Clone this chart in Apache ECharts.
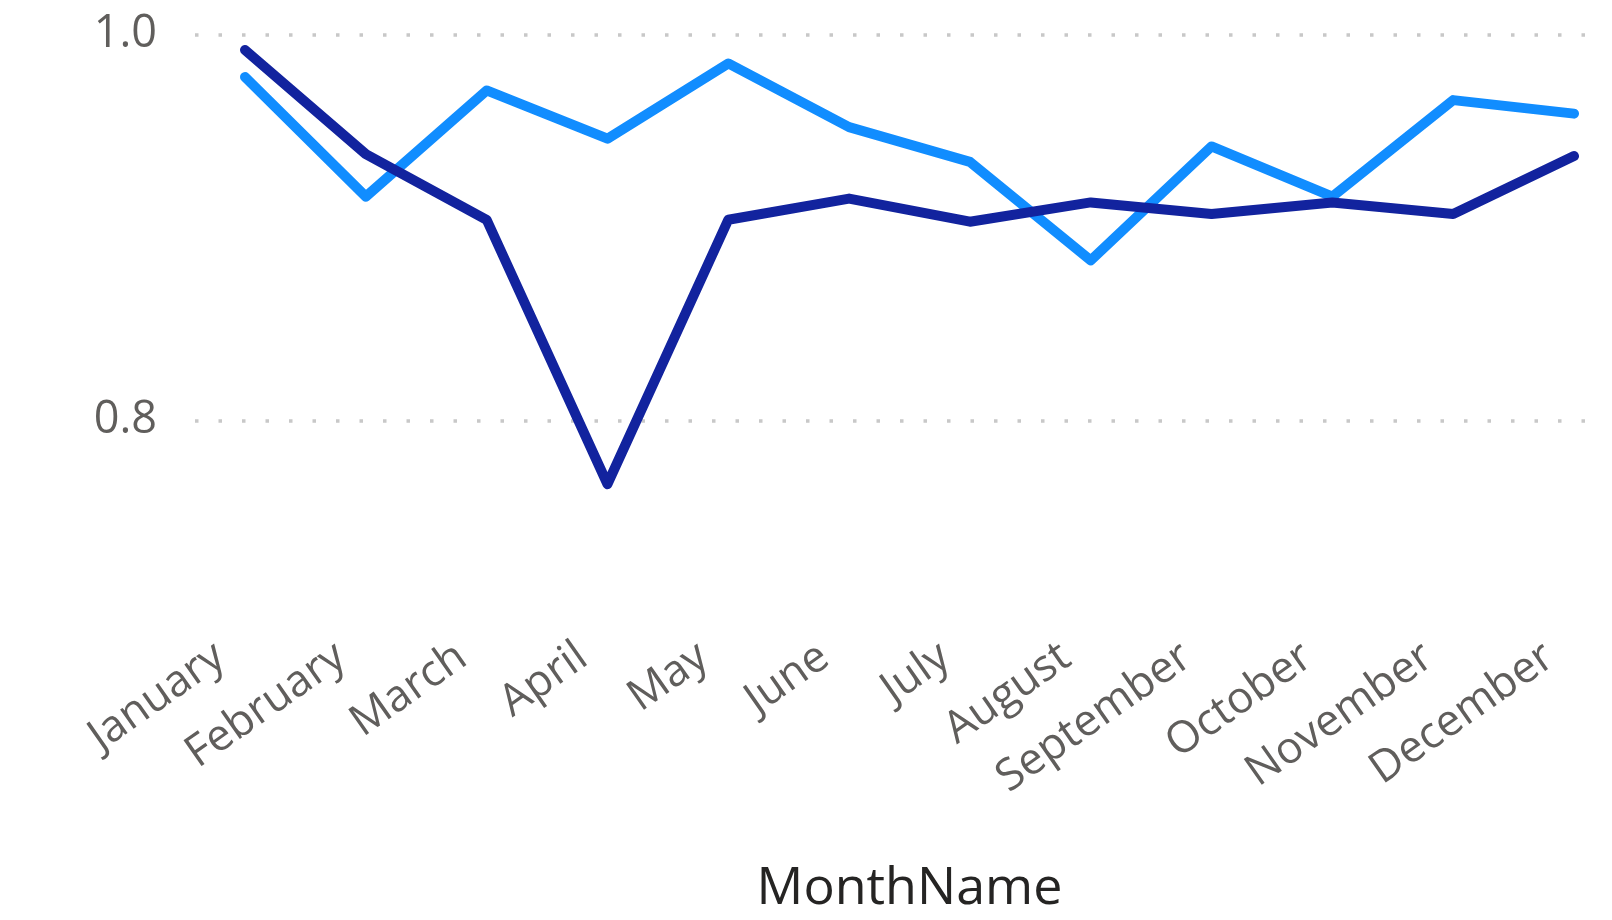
<!DOCTYPE html>
<html>
<head>
<meta charset="utf-8">
<script src="https://cdn.jsdelivr.net/npm/echarts@6/dist/echarts.min.js"></script>
<style>
  html, body { margin: 0; padding: 0; background: #fff; }
  #chart { width: 1612px; height: 920px; }
</style>
</head>
<body>
<div id="chart"></div>
<script>
const months = ['January','February','March','April','May','June','July','August','September','October','November','December'];
const seriesLight = [0.978, 0.916, 0.971, 0.946, 0.985, 0.952, 0.934, 0.883, 0.942, 0.916, 0.966, 0.959];
const seriesDark  = [0.992, 0.938, 0.904, 0.767, 0.904, 0.915, 0.903, 0.913, 0.907, 0.913, 0.907, 0.937];
const yTicks = [0.6, 0.8, 1.0];
const xTitle = 'MonthName';

const FONT = "'Segoe UI', 'Open Sans', sans-serif";
const chart = echarts.init(document.getElementById('chart'), null, { renderer: 'canvas' });

chart.setOption({
  animation: false,
  backgroundColor: '#ffffff',
  grid: [
    { left: 245, right: 38, top: 34.5, bottom: 306.5, outerBoundsMode: 'none', containLabel: false },
    { left: 195, right: 14, top: 34.5, bottom: 113.5, outerBoundsMode: 'none', containLabel: false }
  ],
  xAxis: [
    {
      gridIndex: 0,
      type: 'category',
      data: months,
      boundaryGap: false,
      axisLine: { show: false },
      axisTick: { show: false },
      axisLabel: {
        rotate: 35,
        margin: 22,
        fontSize: 44,
        color: '#605E5C',
        fontFamily: FONT,
        interval: 0,
        padding: [0, 30, 0, 0]
      },
      name: xTitle,
      nameLocation: 'middle',
      nameGap: 250,
      nameTextStyle: { fontSize: 52, color: '#252423', fontFamily: FONT }
    },
    {
      gridIndex: 1,
      type: 'value',
      min: 0,
      max: 1,
      show: false
    }
  ],
  yAxis: [
    {
      gridIndex: 0,
      type: 'value',
      min: 0.7,
      max: 1.0,
      show: false
    },
    {
      gridIndex: 1,
      type: 'value',
      min: yTicks[0],
      max: yTicks[yTicks.length - 1],
      interval: 0.2,
      axisLine: { show: false },
      axisTick: { show: false },
      axisLabel: {
        showMinLabel: false,
        margin: 38,
        fontSize: 45,
        color: '#605E5C',
        fontFamily: FONT,
        formatter: v => v.toFixed(1)
      },
      splitLine: {
        show: true,
        showMinLine: false,
        lineStyle: { color: '#C8C8C8', width: 3.5, type: [3.5, 20] }
      }
    }
  ],
  series: [
    {
      name: 'Light',
      type: 'line',
      xAxisIndex: 0,
      yAxisIndex: 0,
      data: seriesLight,
      showSymbol: false,
      lineStyle: { color: '#118DFF', width: 10, cap: 'round', join: 'round' },
      itemStyle: { color: '#118DFF' },
      z: 2
    },
    {
      name: 'Dark',
      type: 'line',
      xAxisIndex: 0,
      yAxisIndex: 0,
      data: seriesDark,
      showSymbol: false,
      lineStyle: { color: '#12239E', width: 10, cap: 'round', join: 'round' },
      itemStyle: { color: '#12239E' },
      z: 3
    }
  ]
});
</script>
</body>
</html>
